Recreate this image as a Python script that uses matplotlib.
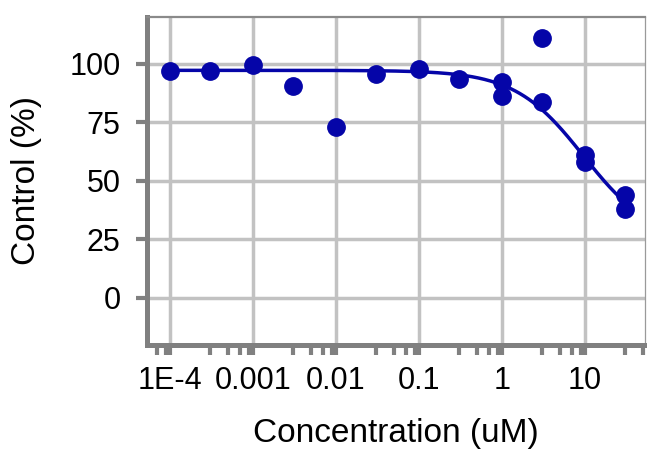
import numpy as np
import matplotlib
matplotlib.use("Agg")
import matplotlib.pyplot as plt
from matplotlib.ticker import FixedLocator, FixedFormatter, NullFormatter

# Measured response (% of control) at each concentration (uM)
conc = [1e-4, 3e-4, 1e-3, 3e-3, 1e-2, 3e-2, 0.1, 0.3, 1, 1, 3, 3, 10, 10, 30, 30]
control = [97.0, 97.0, 99.5, 90.6, 73.1, 95.5, 97.6, 93.7, 92.3, 86.3,
           111.1, 83.6, 60.8, 58.0, 44.1, 38.1]

# Four-parameter logistic fit
fit_top = 97.2
fit_bottom = 24.0
fit_ic50 = 9.6
fit_hill = 1.05

x_ticks = [1e-4, 1e-3, 1e-2, 0.1, 1, 10]
x_tick_labels = ["1E-4", "0.001", "0.01", "0.1", "1", "10"]
y_ticks = [0, 25, 50, 75, 100]
y_tick_labels = ["0", "25", "50", "75", "100"]

plt.rcParams["font.family"] = ["Liberation Sans", "DejaVu Sans"]

W, H = 647, 449
fig = plt.figure(figsize=(W / 100, H / 100), dpi=100)
left, right, top, bottom = 147, 645, 17, 344.5
ax = fig.add_axes([left / W, (H - bottom) / H, (right - left) / W, (bottom - top) / H])

blue = "#0505a8"
axis_grey = "#808080"

# fitted curve
xs = np.logspace(np.log10(min(conc)), np.log10(max(conc)), 400)
ys = fit_bottom + (fit_top - fit_bottom) / (1 + (xs / fit_ic50) ** fit_hill)
ax.plot(xs, ys, color=blue, lw=2.5, zorder=3)

# data points
ax.plot(conc, control, "o", color=blue, ms=12.5, mec=blue, zorder=4)

ax.set_xscale("log")
ax.set_xlim(10 ** -4.277, 10 ** 1.723)
ax.set_ylim(-20, 120)

ax.xaxis.set_major_locator(FixedLocator(x_ticks))
ax.xaxis.set_major_formatter(FixedFormatter(x_tick_labels))
minor = [k * 10.0 ** e for e in range(-5, 2) for k in (3, 5, 7, 9)]
ax.xaxis.set_minor_locator(FixedLocator(minor))
ax.xaxis.set_minor_formatter(NullFormatter())
ax.yaxis.set_major_locator(FixedLocator(y_ticks))
ax.yaxis.set_major_formatter(FixedFormatter(y_tick_labels))
ax.yaxis.set_minor_locator(FixedLocator([]))

ax.grid(True, which="major", color="#c2c2c2", lw=2.5)
ax.set_axisbelow(True)

for side in ("left", "bottom"):
    ax.spines[side].set_color(axis_grey)
    ax.spines[side].set_linewidth(3.6)
ax.spines["top"].set_color("#8a8a8a")
ax.spines["top"].set_linewidth(1.6)
ax.spines["right"].set_color("#9a9a9a")
ax.spines["right"].set_linewidth(0.9)

ax.tick_params(axis="x", which="both", direction="out", length=7.5, width=3,
               color=axis_grey, labelsize=22, pad=8)
ax.tick_params(axis="y", which="major", direction="out", length=8, width=3,
               color=axis_grey, labelsize=22, pad=11)

ax.set_xlabel("Concentration (uM)", fontsize=24, labelpad=16)
ax.set_ylabel("Control (%)", fontsize=24, labelpad=20)

fig.savefig("out.png", dpi=100)
